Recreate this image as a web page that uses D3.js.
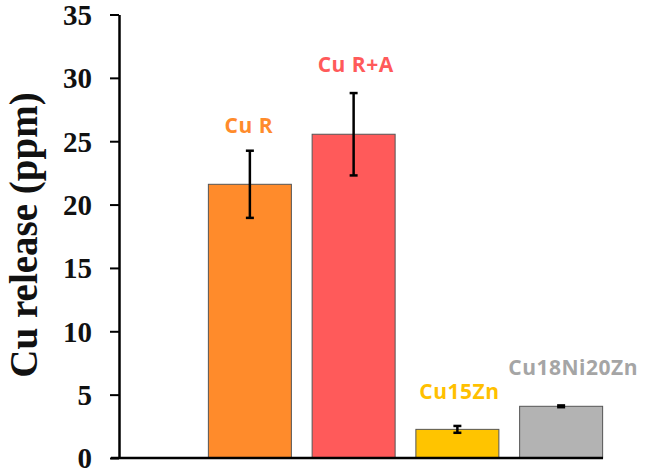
<!DOCTYPE html>
<html>
<head>
<meta charset="utf-8">
<script src="https://cdn.jsdelivr.net/npm/d3@7"></script>
<style>
  html, body { margin: 0; padding: 0; background: #fff; }
  svg { display: block; }
</style>
</head>
<body>
<svg id="chart" width="647" height="472"></svg>
<script>
const categories = ["Cu R", "Cu R+A", "Cu15Zn", "Cu18Ni20Zn"];
const values = [21.6, 25.55, 2.26, 4.08];
const errors = [2.65, 3.25, 0.27, 0.07];
const yTicks = [0, 5, 10, 15, 20, 25, 30, 35];
const barColors = ["#FF8B2B", "#FF5A5A", "#FFC400", "#B3B3B3"];
const labelColors = ["#FF8B2B", "#FF5A5A", "#FFC000", "#A5A5A5"];

// layout tweaks for the category labels (pixels, relative to error-bar top / bar center)
const labelDx = [-1, 2, 2, 12];
const labelDy = [-18, -21, -27, -30];

const svg = d3.select("#chart");
const x = d3.scaleBand().domain(categories).range([198, 613]).paddingInner(0.2).paddingOuter(0.1);
const y = d3.scaleLinear().domain([0, 35]).range([458, 14.5]);

// bars
svg.selectAll("rect.bar").data(categories).join("rect")
  .attr("class", "bar")
  .attr("x", d => x(d))
  .attr("width", x.bandwidth())
  .attr("y", (d, i) => y(values[i]))
  .attr("height", (d, i) => y(0) - y(values[i]))
  .attr("fill", (d, i) => barColors[i])
  .attr("stroke", "#555")
  .attr("stroke-width", 1);

// error bars
const eb = svg.append("g").attr("stroke", "#000").attr("stroke-width", 2.5);
categories.forEach((c, i) => {
  const cx = x(c) + x.bandwidth() / 2;
  const top = y(values[i] + errors[i]), bot = y(values[i] - errors[i]);
  eb.append("line").attr("x1", cx).attr("x2", cx).attr("y1", top).attr("y2", bot);
  eb.append("line").attr("x1", cx - 4).attr("x2", cx + 4).attr("y1", top).attr("y2", top);
  eb.append("line").attr("x1", cx - 4).attr("x2", cx + 4).attr("y1", bot).attr("y2", bot);
});

// y axis
const yAxis = d3.axisLeft(y).tickValues(yTicks).tickSize(9).tickPadding(18).tickSizeOuter(0);
const gy = svg.append("g").attr("transform", "translate(119,0)").call(yAxis);
gy.select(".domain").attr("stroke", "#000").attr("stroke-width", 2.5);
gy.selectAll(".tick line").attr("stroke", "#000").attr("stroke-width", 2);
gy.selectAll(".tick text")
  .attr("font-family", "'Liberation Serif', 'Times New Roman', serif")
  .attr("font-weight", "bold").attr("font-size", 29).attr("fill", "#111")
  .attr("dy", "0.34em");

// x axis baseline
svg.append("line").attr("x1", 111).attr("x2", 603).attr("y1", y(0)).attr("y2", y(0))
  .attr("stroke", "#000").attr("stroke-width", 2.5);

// y title
svg.append("text")
  .attr("transform", `translate(37,235) rotate(-90)`)
  .attr("text-anchor", "middle")
  .attr("font-family", "'Liberation Serif', 'Times New Roman', serif")
  .attr("font-weight", "bold").attr("font-size", 39).attr("fill", "#111")
  .text("Cu release (ppm)");

// bar labels
svg.selectAll("text.lbl").data(categories).join("text")
  .attr("class", "lbl")
  .attr("x", (d, i) => x(d) + x.bandwidth() / 2 + labelDx[i])
  .attr("y", (d, i) => y(values[i] + errors[i]) + labelDy[i])
  .attr("text-anchor", "middle")
  .attr("font-family", "'Open Sans', sans-serif")
  .attr("font-weight", "bold").attr("font-size", 21)
  .attr("letter-spacing", 0.5)
  .attr("fill", (d, i) => labelColors[i])
  .text(d => d);
</script>
</body>
</html>
